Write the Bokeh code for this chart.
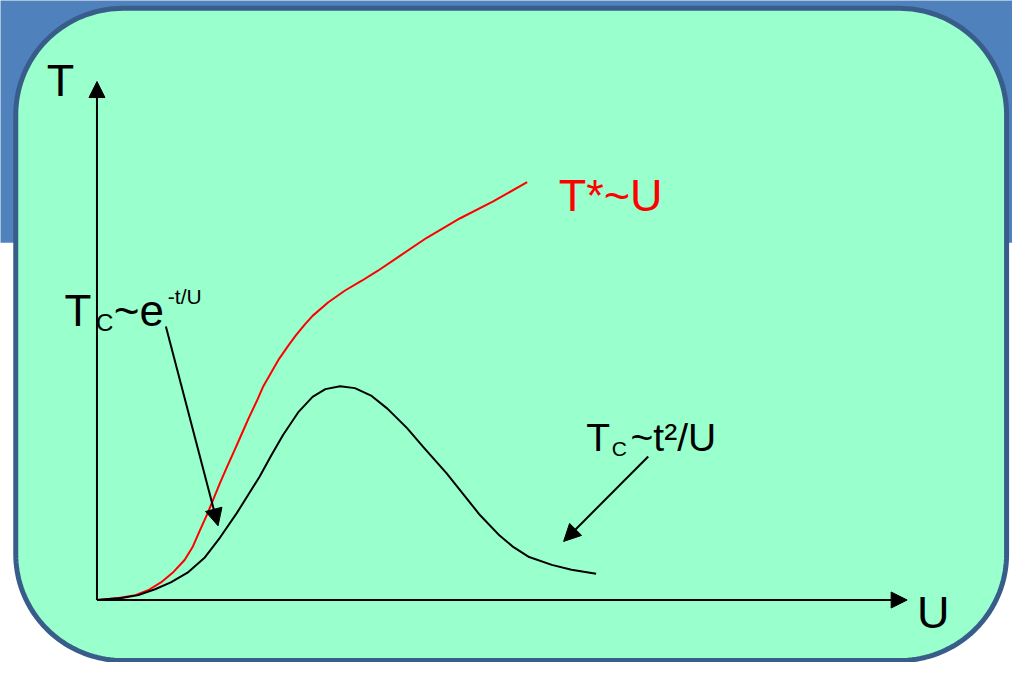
import numpy as np
from bokeh.plotting import figure
from bokeh.models import Arrow, NormalHead, Range1d, ColumnDataSource
from bokeh.core.properties import value
from bokeh.embed import file_html
from bokeh.resources import INLINE

# ---- data (arbitrary U / T units) ----
u_tc = [0.00, 0.25, 0.42, 0.59, 0.75, 0.92, 1.09, 1.25, 1.42, 1.65, 1.77, 1.89, 2.05,
        2.19, 2.32, 2.47, 2.62, 2.79, 2.95, 3.15, 3.32, 3.55, 3.89, 4.09, 4.22, 4.39,
        4.62, 4.82, 5.07]
t_tc = [0.00, 0.02, 0.05, 0.11, 0.18, 0.28, 0.43, 0.64, 0.89, 1.26, 1.48, 1.69, 1.93,
        2.08, 2.16, 2.19, 2.17, 2.09, 1.96, 1.76, 1.56, 1.30, 0.87, 0.66, 0.55, 0.44,
        0.36, 0.31, 0.27]

u_ts = [0.00, 0.22, 0.39, 0.52, 0.65, 0.78, 0.89, 0.97, 1.04, 1.12, 1.19, 1.25, 1.32,
        1.40, 1.47, 1.54, 1.62, 1.69, 1.77, 1.85, 1.94, 2.02, 2.11, 2.19, 2.35, 2.52,
        2.69, 2.85, 3.07, 3.35, 3.69, 4.02, 4.37]
t_ts = [0.00, 0.02, 0.05, 0.10, 0.18, 0.29, 0.41, 0.54, 0.70, 0.88, 1.05, 1.20, 1.36,
        1.54, 1.70, 1.86, 2.03, 2.19, 2.33, 2.47, 2.60, 2.71, 2.82, 2.91, 3.05, 3.17,
        3.27, 3.37, 3.52, 3.71, 3.91, 4.08, 4.28]

u_axis_end = 8.23
t_axis_end = 5.31

# annotation arrows: start (u, t) -> end (u, t)
ann_u0 = [0.70, 5.60]
ann_t0 = [2.80, 1.47]
ann_u1 = [1.23, 4.74]
ann_t1 = [0.76, 0.60]

# labels
lab_text = ["T", "U", "T*~U", "T", "C", "~e", "-t/U", "T", "C", "~t\u00b2/U"]
lab_u = [-0.51, 8.33, 4.69, -0.33, -0.01, 0.17, 0.72, 4.97, 5.23, 5.42]
lab_t = [5.32, -0.13, 4.14, 2.97, 2.84, 2.97, 3.11, 1.66, 1.55, 1.66]
lab_size = ["45px", "45px", "45px", "44px", "24px", "44px", "21px", "39px", "21px", "39px"]
lab_color = ["black", "black", "#ff0000", "black", "black", "black", "black",
             "black", "black", "black"]

# ---- figure ----
p = figure(width=1012, height=662, x_range=Range1d(-0.98, 9.30), y_range=Range1d(-0.64, 6.14),
           output_backend="svg", toolbar_location=None, min_border=0,
           x_axis_location=None, y_axis_location=None)
p.grid.visible = False
p.outline_line_color = None
p.background_fill_color = "white"
p.border_fill_color = "white"

# blue header band
p.quad(left=-2, right=11, bottom=3.66, top=8, fill_color="#4f81bd", line_color=None)


def rounded_box(l, r, b, t, rad, n=40):
    xs, ys = [], []
    for cx, cy, a0 in [(r - rad, t - rad, 0), (l + rad, t - rad, 90),
                       (l + rad, b + rad, 180), (r - rad, b + rad, 270)]:
        a = np.radians(np.linspace(a0, a0 + 90, n))
        xs += list(cx + rad * np.cos(a))
        ys += list(cy + rad * np.sin(a))
    return xs, ys


bx, by = rounded_box(-0.825, 9.24, -0.62, 6.06, 1.09)
p.patch(bx, by, fill_color="#99ffcc", line_color="#385d8a", line_width=5)

# axes with arrows
for xe, ye in [(u_axis_end, 0), (0, t_axis_end)]:
    p.add_layout(Arrow(end=NormalHead(size=16, fill_color="black", line_color="black"),
                       x_start=0, y_start=0, x_end=xe, y_end=ye,
                       line_color="black", line_width=2))

# curves
p.line(u_ts, t_ts, line_color="#ff0000", line_width=2, line_join="round")
p.line(u_tc, t_tc, line_color="black", line_width=2, line_join="round")

# annotation arrows
for a in range(len(ann_u0)):
    p.add_layout(Arrow(end=NormalHead(size=17, fill_color="black", line_color="black"),
                       x_start=ann_u0[a], y_start=ann_t0[a], x_end=ann_u1[a], y_end=ann_t1[a],
                       line_color="black", line_width=2))

src = ColumnDataSource(dict(x=lab_u, y=lab_t, text=lab_text, size=lab_size, color=lab_color))
p.text(x="x", y="y", text="text", source=src, text_font=value("Liberation Sans"),
       text_font_size="size", text_color="color", text_align="left",
       text_baseline="alphabetic")

open("out.html", "w").write(file_html(p, INLINE))
